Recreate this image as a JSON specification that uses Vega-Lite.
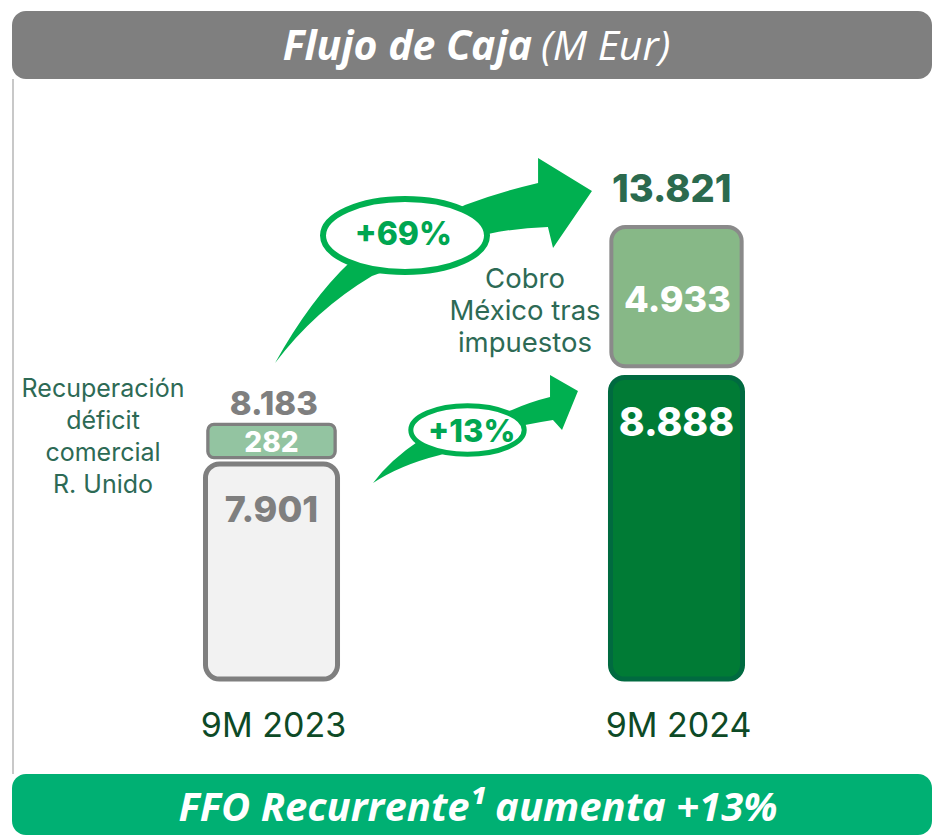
{
  "$schema": "https://vega.github.io/schema/vega-lite/v6.json",
  "background": "#ffffff",
  "padding": {"left": 12, "top": 11, "right": 0, "bottom": 0},
  "spacing": 0,
  "bounds": "flush",
  "config": {
    "view": {"stroke": null},
    "locale": {"number": {"decimal": ",", "thousands": ".", "grouping": [3], "currency": ["", " €"]}},
    "text": {"font": "Inter"}
  },
  "datasets": {
    "segments": [
      {"period": "9M 2023", "component": "Flujo de caja", "value": 7901, "order": 1, "note": ""},
      {"period": "9M 2023", "component": "Recuperación déficit comercial R. Unido", "value": 282, "order": 2, "note": "Recuperación\ndéficit\ncomercial\nR. Unido"},
      {"period": "9M 2024", "component": "Flujo de caja", "value": 8888, "order": 1, "note": ""},
      {"period": "9M 2024", "component": "Cobro México tras impuestos", "value": 4933, "order": 2, "note": "Cobro\nMéxico tras\nimpuestos"}
    ],
    "growth": [
      {"label": "+69%", "from": "9M 2023", "to": "9M 2024", "value_from": 8183, "value_to": 13821},
      {"label": "+13%", "from": "9M 2023", "to": "9M 2024", "value_from": 7901, "value_to": 8888}
    ]
  },
  "vconcat": [
    {
      "width": 920,
      "height": 68,
      "view": {"fill": "#7f7f7f", "cornerRadius": 14, "stroke": null},
      "data": {"values": [{"title": "Flujo de Caja", "unit": "(M Eur)"}]},
      "layer": [
        {
          "mark": {"type": "text", "align": "right", "baseline": "middle", "font": "Open Sans", "fontWeight": "bold", "fontStyle": "italic", "fontSize": 41, "color": "#ffffff", "dx": 60, "dy": 3},
          "encoding": {"text": {"field": "title"}, "x": {"value": 460}, "y": {"value": 34}}
        },
        {
          "mark": {"type": "text", "align": "left", "baseline": "middle", "font": "Open Sans", "fontWeight": "normal", "fontStyle": "italic", "fontSize": 41, "color": "#ffffff", "dx": 69, "dy": 3},
          "encoding": {"text": {"field": "unit"}, "x": {"value": 460}, "y": {"value": 34}}
        }
      ]
    },
    {
      "width": 920,
      "height": 695,
      "view": {"stroke": null},
      "layer": [
        {
          "data": {"values": [{}]},
          "mark": {"type": "rule", "color": "#c8c8c8", "strokeWidth": 2},
          "encoding": {"x": {"value": 1}, "y": {"value": 0}, "y2": {"value": "height"}}
        },
        {
          "data": {"name": "growth"},
          "transform": [{"filter": "datum.label === '+69%'"}],
          "mark": {"type": "point", "shape": "M -0.929 0.606 Q -0.7235 0.2353 -0.488 0.012 L 0.188 -0.324 Q 0.394 -0.4 0.618 -0.453 L 0.618 -0.6 L 0.935 -0.406 L 0.706 -0.071 L 0.676 -0.194 Q 0.482 -0.188 0.324 -0.153 L -0.359 0.094 Q -0.694 0.294 -0.929 0.606 Z", "size": 115600, "filled": true, "fill": "#00b050", "strokeWidth": 0, "opacity": 1, "xOffset": 161.5, "yOffset": 33},
          "encoding": {
            "x": {"field": "from", "type": "nominal", "scale": {"type": "band", "domain": ["9M 2023", "9M 2024"], "range": [-9, 933], "paddingInner": 0.674, "paddingOuter": 0.5}, "axis": null},
            "y": {"field": "value_to", "type": "quantitative", "scale": {"type": "linear", "domain": [0, 7901, 8183, 8888, 13821], "range": [600, 385, 345.4, 298.5, 148], "zero": false, "nice": false}, "axis": null}
          }
        },
        {
          "data": {"name": "growth"},
          "transform": [{"filter": "datum.label === '+13%'"}],
          "mark": {"type": "point", "shape": "M -0.927 0.482 Q -0.773 0.273 -0.5 0.091 L 0.336 -0.182 Q 0.5 -0.255 0.682 -0.3 L 0.682 -0.5 L 0.936 -0.355 L 0.791 0 L 0.709 -0.091 Q 0.591 -0.073 0.455 -0.045 L -0.318 0.227 Q -0.682 0.318 -0.927 0.482 Z", "size": 48400, "filled": true, "fill": "#00b050", "strokeWidth": 0, "opacity": 1, "xOffset": 203.5, "yOffset": 52.5},
          "encoding": {
            "x": {"field": "from", "type": "nominal", "scale": {"type": "band", "domain": ["9M 2023", "9M 2024"], "range": [-9, 933], "paddingInner": 0.674, "paddingOuter": 0.5}, "axis": null},
            "y": {"field": "value_to", "type": "quantitative", "scale": {"type": "linear", "domain": [0, 7901, 8183, 8888, 13821], "range": [600, 385, 345.4, 298.5, 148], "zero": false, "nice": false}, "axis": null}
          }
        },
        {
          "data": {"name": "growth"},
          "transform": [{"filter": "datum.label === '+69%'"}],
          "mark": {"type": "point", "shape": "M -1 0 C -1 -0.2458 -0.5523 -0.445 0 -0.445 C 0.5523 -0.445 1 -0.2458 1 0 C 1 0.2458 0.5523 0.445 0 0.445 C -0.5523 0.445 -1 0.2458 -1 0 Z", "size": 26896, "filled": true, "fill": "#ffffff", "stroke": "#00b050", "strokeWidth": 6, "opacity": 1, "xOffset": 133.5, "yOffset": 8.5},
          "encoding": {
            "x": {"field": "from", "type": "nominal", "scale": {"type": "band", "domain": ["9M 2023", "9M 2024"], "range": [-9, 933], "paddingInner": 0.674, "paddingOuter": 0.5}, "axis": null},
            "y": {"field": "value_to", "type": "quantitative", "scale": {"type": "linear", "domain": [0, 7901, 8183, 8888, 13821], "range": [600, 385, 345.4, 298.5, 148], "zero": false, "nice": false}, "axis": null}
          }
        },
        {
          "data": {"name": "growth"},
          "transform": [{"filter": "datum.label === '+13%'"}],
          "mark": {"type": "point", "shape": "M -1 0 C -1 -0.2358 -0.5523 -0.427 0 -0.427 C 0.5523 -0.427 1 -0.2358 1 0 C 1 0.2358 0.5523 0.427 0 0.427 C -0.5523 0.427 -1 0.2358 -1 0 Z", "size": 12860, "filled": true, "fill": "#ffffff", "stroke": "#00b050", "strokeWidth": 5, "opacity": 1, "xOffset": 196, "yOffset": 52.5},
          "encoding": {
            "x": {"field": "from", "type": "nominal", "scale": {"type": "band", "domain": ["9M 2023", "9M 2024"], "range": [-9, 933], "paddingInner": 0.674, "paddingOuter": 0.5}, "axis": null},
            "y": {"field": "value_to", "type": "quantitative", "scale": {"type": "linear", "domain": [0, 7901, 8183, 8888, 13821], "range": [600, 385, 345.4, 298.5, 148], "zero": false, "nice": false}, "axis": null}
          }
        },
        {
          "data": {"name": "growth"},
          "transform": [{"filter": "datum.label === '+69%'"}],
          "mark": {"type": "text", "align": "center", "baseline": "alphabetic", "fontWeight": 800, "fontSize": 32, "color": "#00a651", "xOffset": 131.8, "yOffset": 18},
          "encoding": {
            "text": {"field": "label"},
            "x": {"field": "from", "type": "nominal", "scale": {"type": "band", "domain": ["9M 2023", "9M 2024"], "range": [-9, 933], "paddingInner": 0.674, "paddingOuter": 0.5}, "axis": null},
            "y": {"field": "value_to", "type": "quantitative", "scale": {"type": "linear", "domain": [0, 7901, 8183, 8888, 13821], "range": [600, 385, 345.4, 298.5, 148], "zero": false, "nice": false}, "axis": null}
          }
        },
        {
          "data": {"name": "growth"},
          "transform": [{"filter": "datum.label === '+13%'"}],
          "mark": {"type": "text", "align": "center", "baseline": "alphabetic", "fontWeight": 800, "fontSize": 31, "color": "#00a651", "xOffset": 200.2, "yOffset": 64.5},
          "encoding": {
            "text": {"field": "label"},
            "x": {"field": "from", "type": "nominal", "scale": {"type": "band", "domain": ["9M 2023", "9M 2024"], "range": [-9, 933], "paddingInner": 0.674, "paddingOuter": 0.5}, "axis": null},
            "y": {"field": "value_to", "type": "quantitative", "scale": {"type": "linear", "domain": [0, 7901, 8183, 8888, 13821], "range": [600, 385, 345.4, 298.5, 148], "zero": false, "nice": false}, "axis": null}
          }
        },
        {
          "data": {"name": "segments"},
          "transform": [
            {"stack": "value", "groupby": ["period"], "sort": [{"field": "order", "order": "ascending"}], "as": ["v0", "v1"]},
            {"filter": "datum.order === 1"}
          ],
          "mark": {"type": "bar", "cornerRadius": 14, "strokeWidth": 5},
          "encoding": {
            "x": {"field": "period", "type": "nominal", "scale": {"type": "band", "domain": ["9M 2023", "9M 2024"], "range": [-9, 933], "paddingInner": 0.674, "paddingOuter": 0.5}, "axis": null},
            "y": {"field": "v1", "type": "quantitative", "scale": {"type": "linear", "domain": [0, 7901, 8183, 8888, 13821], "range": [600, 385, 345.4, 298.5, 148], "zero": false, "nice": false}, "axis": null},
            "y2": {"field": "v0"},
            "fill": {"condition": {"test": "datum.period === '9M 2023'", "value": "#f2f2f2"}, "value": "#007b35"},
            "stroke": {"condition": {"test": "datum.period === '9M 2023'", "value": "#7f7f7f"}, "value": "#006a40"}
          }
        },
        {
          "data": {"name": "segments"},
          "transform": [
            {"stack": "value", "groupby": ["period"], "sort": [{"field": "order", "order": "ascending"}], "as": ["v0", "v1"]},
            {"filter": "datum.order === 2 && datum.period === '9M 2023'"}
          ],
          "mark": {"type": "bar", "cornerRadius": 6, "strokeWidth": 3.3, "fill": "#93c4a1", "stroke": "#7f7f7f", "width": {"band": 0.964}, "y2Offset": -6.4},
          "encoding": {
            "x": {"field": "period", "type": "nominal", "scale": {"type": "band", "domain": ["9M 2023", "9M 2024"], "range": [-9, 933], "paddingInner": 0.674, "paddingOuter": 0.5}, "axis": null},
            "y": {"field": "v1", "type": "quantitative", "scale": {"type": "linear", "domain": [0, 7901, 8183, 8888, 13821], "range": [600, 385, 345.4, 298.5, 148], "zero": false, "nice": false}, "axis": null},
            "y2": {"field": "v0"}
          }
        },
        {
          "data": {"name": "segments"},
          "transform": [
            {"stack": "value", "groupby": ["period"], "sort": [{"field": "order", "order": "ascending"}], "as": ["v0", "v1"]},
            {"filter": "datum.order === 2 && datum.period === '9M 2024'"}
          ],
          "mark": {"type": "bar", "cornerRadius": 14, "strokeWidth": 4, "fill": "#87b887", "stroke": "#8a8a8a", "width": {"band": 0.987}, "y2Offset": -11.2},
          "encoding": {
            "x": {"field": "period", "type": "nominal", "scale": {"type": "band", "domain": ["9M 2023", "9M 2024"], "range": [-9, 933], "paddingInner": 0.674, "paddingOuter": 0.5}, "axis": null},
            "y": {"field": "v1", "type": "quantitative", "scale": {"type": "linear", "domain": [0, 7901, 8183, 8888, 13821], "range": [600, 385, 345.4, 298.5, 148], "zero": false, "nice": false}, "axis": null},
            "y2": {"field": "v0"}
          }
        },
        {
          "data": {"name": "segments"},
          "transform": [
            {"stack": "value", "groupby": ["period"], "sort": [{"field": "order", "order": "ascending"}], "as": ["v0", "v1"]},
            {"filter": "datum.order === 1"}
          ],
          "mark": {"type": "text", "align": "center", "baseline": "alphabetic", "fontWeight": 800, "yOffset": 58},
          "encoding": {
            "text": {"field": "value", "type": "quantitative", "format": ","},
            "x": {"field": "period", "type": "nominal", "scale": {"type": "band", "domain": ["9M 2023", "9M 2024"], "range": [-9, 933], "paddingInner": 0.674, "paddingOuter": 0.5}, "axis": null},
            "y": {"field": "v1", "type": "quantitative", "scale": {"type": "linear", "domain": [0, 7901, 8183, 8888, 13821], "range": [600, 385, 345.4, 298.5, 148], "zero": false, "nice": false}, "axis": null},
            "color": {"condition": {"test": "datum.period === '9M 2023'", "value": "#7f7f7f"}, "value": "#ffffff"},
            "size": {"condition": {"test": "datum.period === '9M 2023'", "value": 36}, "value": 39}
          }
        },
        {
          "data": {"name": "segments"},
          "transform": [
            {"stack": "value", "groupby": ["period"], "sort": [{"field": "order", "order": "ascending"}], "as": ["v0", "v1"]},
            {"filter": "datum.order === 2 && datum.period === '9M 2023'"}
          ],
          "mark": {"type": "text", "align": "center", "baseline": "alphabetic", "fontWeight": 800, "fontSize": 28, "color": "#ffffff", "yOffset": 27.3},
          "encoding": {
            "text": {"field": "value", "type": "quantitative", "format": ","},
            "x": {"field": "period", "type": "nominal", "scale": {"type": "band", "domain": ["9M 2023", "9M 2024"], "range": [-9, 933], "paddingInner": 0.674, "paddingOuter": 0.5}, "axis": null},
            "y": {"field": "v1", "type": "quantitative", "scale": {"type": "linear", "domain": [0, 7901, 8183, 8888, 13821], "range": [600, 385, 345.4, 298.5, 148], "zero": false, "nice": false}, "axis": null}
          }
        },
        {
          "data": {"name": "segments"},
          "transform": [
            {"stack": "value", "groupby": ["period"], "sort": [{"field": "order", "order": "ascending"}], "as": ["v0", "v1"]},
            {"filter": "datum.order === 2 && datum.period === '9M 2024'"}
          ],
          "mark": {"type": "text", "align": "center", "baseline": "alphabetic", "fontWeight": 800, "fontSize": 36, "color": "#ffffff", "xOffset": 1, "yOffset": 84.7},
          "encoding": {
            "text": {"field": "value", "type": "quantitative", "format": ","},
            "x": {"field": "period", "type": "nominal", "scale": {"type": "band", "domain": ["9M 2023", "9M 2024"], "range": [-9, 933], "paddingInner": 0.674, "paddingOuter": 0.5}, "axis": null},
            "y": {"field": "v1", "type": "quantitative", "scale": {"type": "linear", "domain": [0, 7901, 8183, 8888, 13821], "range": [600, 385, 345.4, 298.5, 148], "zero": false, "nice": false}, "axis": null}
          }
        },
        {
          "data": {"name": "segments"},
          "transform": [
            {"stack": "value", "groupby": ["period"], "sort": [{"field": "order", "order": "ascending"}], "as": ["v0", "v1"]},
            {"filter": "datum.order === 2 && datum.period === '9M 2023'"}
          ],
          "mark": {"type": "text", "align": "center", "baseline": "alphabetic", "fontWeight": 800, "fontSize": 33, "color": "#7f7f7f", "xOffset": 2.3, "yOffset": -9.4},
          "encoding": {
            "text": {"field": "v1", "type": "quantitative", "format": ","},
            "x": {"field": "period", "type": "nominal", "scale": {"type": "band", "domain": ["9M 2023", "9M 2024"], "range": [-9, 933], "paddingInner": 0.674, "paddingOuter": 0.5}, "axis": null},
            "y": {"field": "v1", "type": "quantitative", "scale": {"type": "linear", "domain": [0, 7901, 8183, 8888, 13821], "range": [600, 385, 345.4, 298.5, 148], "zero": false, "nice": false}, "axis": null}
          }
        },
        {
          "data": {"name": "segments"},
          "transform": [
            {"stack": "value", "groupby": ["period"], "sort": [{"field": "order", "order": "ascending"}], "as": ["v0", "v1"]},
            {"filter": "datum.order === 2 && datum.period === '9M 2024'"}
          ],
          "mark": {"type": "text", "align": "center", "baseline": "alphabetic", "fontWeight": 800, "fontSize": 38, "color": "#2b6a4e", "xOffset": -4.8, "yOffset": -25.3},
          "encoding": {
            "text": {"field": "v1", "type": "quantitative", "format": ","},
            "x": {"field": "period", "type": "nominal", "scale": {"type": "band", "domain": ["9M 2023", "9M 2024"], "range": [-9, 933], "paddingInner": 0.674, "paddingOuter": 0.5}, "axis": null},
            "y": {"field": "v1", "type": "quantitative", "scale": {"type": "linear", "domain": [0, 7901, 8183, 8888, 13821], "range": [600, 385, 345.4, 298.5, 148], "zero": false, "nice": false}, "axis": null}
          }
        },
        {
          "data": {"name": "segments"},
          "transform": [
            {"stack": "value", "groupby": ["period"], "sort": [{"field": "order", "order": "ascending"}], "as": ["v0", "v1"]},
            {"filter": "datum.order === 1"}
          ],
          "mark": {"type": "text", "align": "center", "baseline": "alphabetic", "fontWeight": "normal", "fontSize": 34, "color": "#0d4a26", "xOffset": 2, "yOffset": 57.7},
          "encoding": {
            "text": {"field": "period"},
            "x": {"field": "period", "type": "nominal", "scale": {"type": "band", "domain": ["9M 2023", "9M 2024"], "range": [-9, 933], "paddingInner": 0.674, "paddingOuter": 0.5}, "axis": null},
            "y": {"field": "v0", "type": "quantitative", "scale": {"type": "linear", "domain": [0, 7901, 8183, 8888, 13821], "range": [600, 385, 345.4, 298.5, 148], "zero": false, "nice": false}, "axis": null}
          }
        },
        {
          "data": {"name": "segments"},
          "transform": [
            {"stack": "value", "groupby": ["period"], "sort": [{"field": "order", "order": "ascending"}], "as": ["v0", "v1"]},
            {"filter": "datum.order === 2 && datum.period === '9M 2023'"}
          ],
          "mark": {"type": "text", "align": "center", "baseline": "alphabetic", "fontWeight": "normal", "fontSize": 25, "lineHeight": 31.8, "lineBreak": "\n", "color": "#2d6a55", "xOffset": -168.5, "yOffset": -27},
          "encoding": {
            "text": {"field": "note"},
            "x": {"field": "period", "type": "nominal", "scale": {"type": "band", "domain": ["9M 2023", "9M 2024"], "range": [-9, 933], "paddingInner": 0.674, "paddingOuter": 0.5}, "axis": null},
            "y": {"field": "v1", "type": "quantitative", "scale": {"type": "linear", "domain": [0, 7901, 8183, 8888, 13821], "range": [600, 385, 345.4, 298.5, 148], "zero": false, "nice": false}, "axis": null}
          }
        },
        {
          "data": {"name": "segments"},
          "transform": [
            {"stack": "value", "groupby": ["period"], "sort": [{"field": "order", "order": "ascending"}], "as": ["v0", "v1"]},
            {"filter": "datum.order === 2 && datum.period === '9M 2024'"}
          ],
          "mark": {"type": "text", "align": "center", "baseline": "alphabetic", "fontWeight": "normal", "fontSize": 27.5, "lineHeight": 31.7, "lineBreak": "\n", "color": "#2d6a55", "xOffset": -151.5, "yOffset": 61.3},
          "encoding": {
            "text": {"field": "note"},
            "x": {"field": "period", "type": "nominal", "scale": {"type": "band", "domain": ["9M 2023", "9M 2024"], "range": [-9, 933], "paddingInner": 0.674, "paddingOuter": 0.5}, "axis": null},
            "y": {"field": "v1", "type": "quantitative", "scale": {"type": "linear", "domain": [0, 7901, 8183, 8888, 13821], "range": [600, 385, 345.4, 298.5, 148], "zero": false, "nice": false}, "axis": null}
          }
        }
      ]
    },
    {
      "width": 920,
      "height": 61,
      "view": {"fill": "#00b073", "cornerRadius": 14, "stroke": null},
      "data": {"values": [{"headline": "FFO Recurrente¹ aumenta +13%"}]},
      "mark": {"type": "text", "align": "center", "baseline": "middle", "font": "Open Sans", "fontWeight": "bold", "fontStyle": "italic", "fontSize": 40, "color": "#ffffff", "dx": 6, "dy": 4},
      "encoding": {"text": {"field": "headline"}, "x": {"value": 460}, "y": {"value": 30.5}}
    }
  ]
}
